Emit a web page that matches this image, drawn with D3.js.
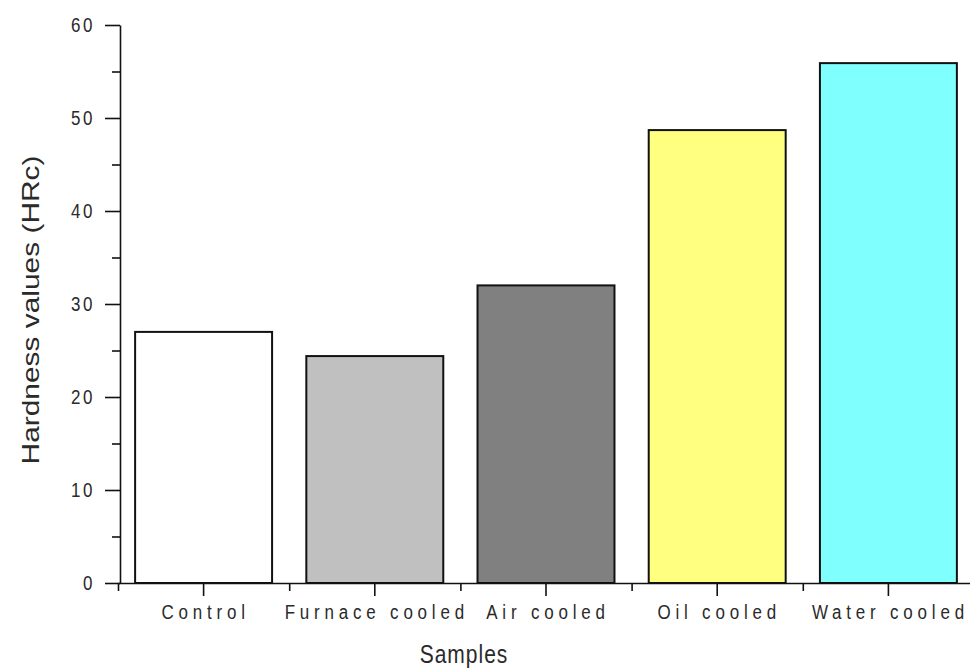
<!DOCTYPE html>
<html lang="en">
    <head>
        <title>Hardness values</title>
        <script src="https://d3js.org/d3.v7.min.js"></script>
        <style>
            body { margin: 0; background: #fff; }
            text { font-family: "Liberation Sans", Arial, sans-serif; fill: #2a2a2a; }
        </style>
    </head>
    <body>
    <div id="mainDiv"></div>

        <script type="text/javascript">
            const samples = ['Control', 'Furnace cooled', 'Air cooled', 'Oil cooled', 'Water cooled']
            const hardness = [27, 24.4, 32, 48.7, 55.9]
            const barColours = ['#ffffff', '#c0c0c0', '#808080', '#ffff80', '#80ffff']
            const majorTicks = [0, 10, 20, 30, 40, 50, 60]
            const minorTicks = [5, 15, 25, 35, 45, 55]

            const width = 970
            const height = 670
            const stretch = 1.15 // text in the picture is a bit taller than wide

            const svg = d3.select('#mainDiv').append('svg')
                .attr('width', width)
                .attr('height', height)

            const yScale = d3.scaleLinear()
                .domain([0, 60])
                .range([583, 25])

            const xScale = d3.scaleBand()
                .domain(samples)
                .range([118, 974])
                .paddingInner(0.2)
                .paddingOuter(0.1)

            // minor x ticks sit on the category boundaries
            const edgeScale = d3.scaleLinear()
                .domain([0, samples.length])
                .range(xScale.range())

            const dataset = samples.map((s, i) => ({ name: s, value: hardness[i], colour: barColours[i] }))

            // bars
            svg.append('g').selectAll('rect')
                .data(dataset)
                .join('rect')
                .attr('x', d => xScale(d.name))
                .attr('y', d => yScale(d.value))
                .attr('width', xScale.bandwidth())
                .attr('height', d => yScale(0) - yScale(d.value))
                .style('fill', d => d.colour)
                .style('stroke', '#111')
                .style('stroke-width', 2)

            // y axis
            svg.append('g')
                .attr('transform', 'translate(120,0)')
                .call(d3.axisLeft(yScale).tickValues(majorTicks).tickSize(15).tickSizeOuter(0).tickFormat(''))
            svg.append('g')
                .attr('transform', 'translate(120,0)')
                .call(d3.axisLeft(yScale).tickValues(minorTicks).tickSize(8).tickFormat(''))
                .select('.domain').remove()

            // x axis
            svg.append('g')
                .attr('transform', `translate(0,${yScale(0)})`)
                .call(d3.axisBottom(xScale).tickSize(13).tickSizeOuter(0).tickFormat(''))
            svg.append('g')
                .attr('transform', `translate(0,${yScale(0)})`)
                .call(d3.axisBottom(edgeScale).tickValues(d3.range(samples.length + 1)).tickSize(8).tickFormat(''))
                .select('.domain').remove()

            svg.selectAll('.domain, .tick line')
                .style('stroke', '#111')
                .style('stroke-width', 1.6)

            // tick labels
            svg.append('g').selectAll('text')
                .data(majorTicks)
                .join('text')
                .attr('transform', d => `translate(95,${yScale(d)}) scale(1,${stretch})`)
                .attr('dy', '0.35em')
                .attr('text-anchor', 'end')
                .style('font-size', '17px')
                .style('letter-spacing', '2.5px')
                .text(d => d)

            svg.append('g').selectAll('text')
                .data(samples)
                .join('text')
                .attr('transform', d => `translate(${xScale(d) + xScale.bandwidth() / 2 + 2},619) scale(1,${stretch})`)
                .attr('text-anchor', 'middle')
                .style('font-size', '17px')
                .style('letter-spacing', '4.8px')
                .text(d => d)

            // axis titles
            svg.append('text')
                .attr('transform', `translate(464,663) scale(1,1.25)`)
                .attr('text-anchor', 'middle')
                .style('font-size', '21px')
                .style('letter-spacing', '1px')
                .text('Samples')

            svg.append('text')
                .attr('transform', `translate(39,310) rotate(-90) scale(1.3,1)`)
                .attr('text-anchor', 'middle')
                .style('font-size', '23px')
                .text('Hardness values (HRc)')
        </script>
    </body>
</html>
